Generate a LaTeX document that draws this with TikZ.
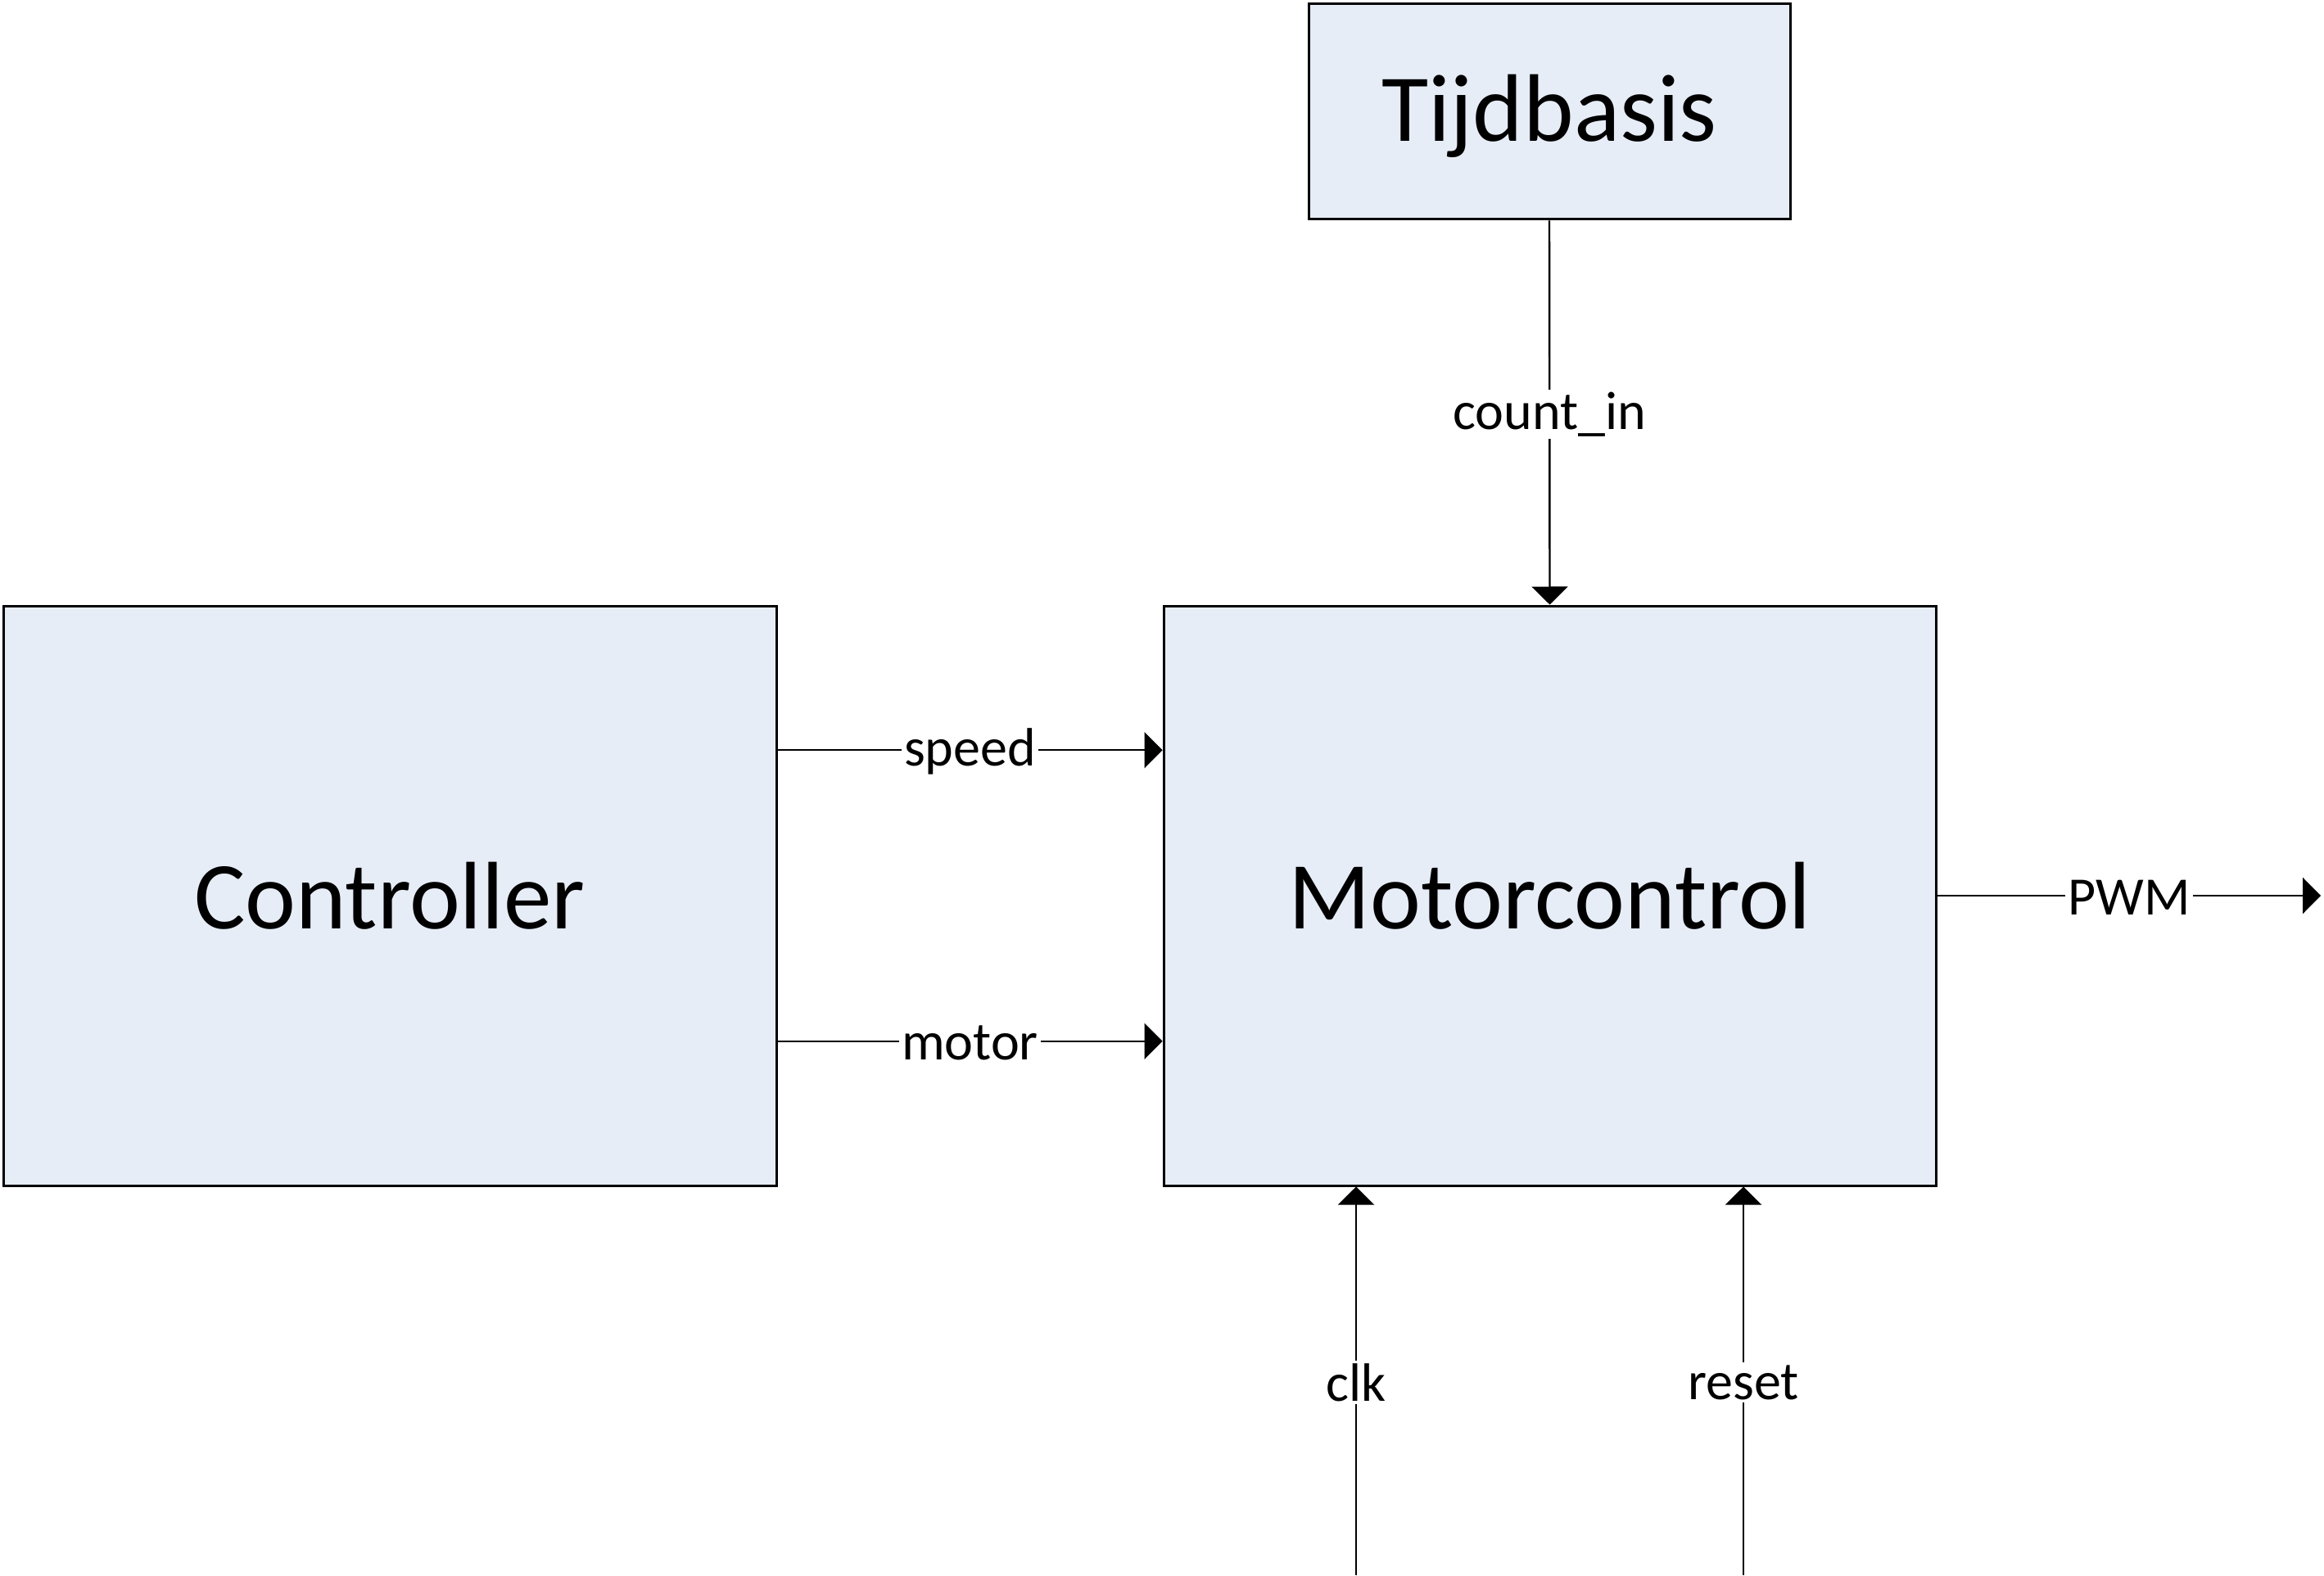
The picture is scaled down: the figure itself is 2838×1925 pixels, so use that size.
\documentclass[tikz,border=0pt]{standalone}
\usepackage{fontspec}
\setmainfont{Carlito}
\usetikzlibrary{arrows.meta,calc}
\definecolor{boxfill}{RGB}{231,237,247}
\begin{document}
\begin{tikzpicture}[x=0.25pt,y=-0.25pt,
  block/.style={draw=black,fill=boxfill,line width=0.75pt,inner sep=0pt,
    font=\fontsize{29.3}{34}\selectfont},
  sig/.style={draw=black,line width=0.6pt,-{Triangle[length=5.5pt,width=11pt]}},
  lbl/.style={fill=white,inner sep=0.8pt,yshift=-0.5pt,font=\fontsize{16.5}{19.5}\selectfont}]
\useasboundingbox (0,0) rectangle (2838,1925);
\node[block,minimum width=588*0.25pt,minimum height=263*0.25pt] (tb) at (1892,136.5) {\raisebox{-1.3pt}[\height][\depth]{Tijdbasis}};
\node[block,minimum width=944*0.25pt,minimum height=708*0.25pt] (ctrl) at (476,1094) {Controller};
\node[block,minimum width=943*0.25pt,minimum height=708*0.25pt] (mc) at (1892.5,1094) {Motorcontrol};
\coordinate (pwmend) at (2834,1094);
\coordinate (clkin) at ($(mc.south west)!0.25!(mc.south east)+(0,474)$);
\coordinate (rstin) at ($(mc.south west)!0.75!(mc.south east)+(0,474)$);
\draw[sig] (tb.south) -- node[lbl]{count\_in} (mc.north);
\draw[sig] ($(ctrl.north east)!0.25!(ctrl.south east)$) -- node[lbl]{speed} ($(mc.north west)!0.25!(mc.south west)$);
\draw[sig] ($(ctrl.north east)!0.75!(ctrl.south east)$) -- node[lbl]{motor} ($(mc.north west)!0.75!(mc.south west)$);
\draw[sig] (mc.east) -- node[lbl]{PWM} (pwmend);
\draw[sig] (clkin) -- node[lbl]{clk} ($(mc.south west)!0.25!(mc.south east)$);
\draw[sig] (rstin) -- node[lbl]{reset} ($(mc.south west)!0.75!(mc.south east)$);
\end{tikzpicture}
\end{document}
